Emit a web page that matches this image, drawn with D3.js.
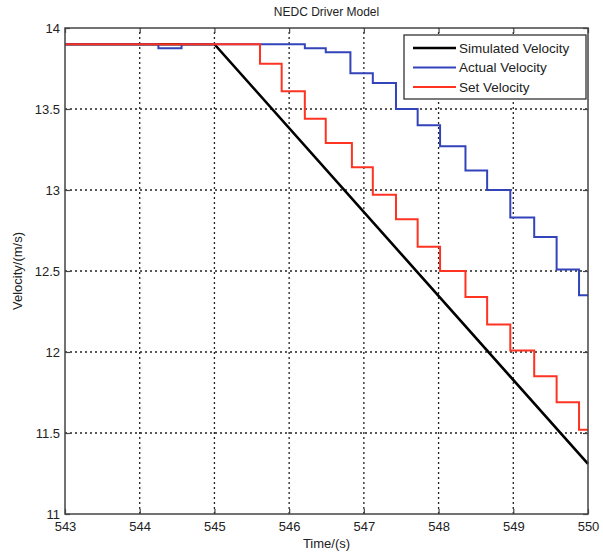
<!DOCTYPE html>
<html lang="en">
  <head>
    <meta charset="utf-8">
    <title>NEDC Driver Model</title>
    <script src="https://d3js.org/d3.v7.min.js"></script>
    <style>
      body { margin: 0; background: #fff; }
      svg text { font-family: "Liberation Sans", Arial, sans-serif; fill: #222; }
    </style>
  </head>
  <body>
    <div id="chart"></div>
    <script>
      // Data
      const xTicks = [543, 544, 545, 546, 547, 548, 549, 550];
      const yTicks = [11, 11.5, 12, 12.5, 13, 13.5, 14];

      // simulated velocity: straight ramp
      const simTime = [543, 545, 550];
      const simVel = [13.9, 13.9, 11.31];

      // actual velocity (step changes: time, new value)
      const actTime = [543, 544.25, 544.56, 546.21, 546.49, 546.82, 547.12, 547.43, 547.72, 548.02, 548.36, 548.65, 548.96, 549.28, 549.58, 549.88];
      const actVel = [13.9, 13.875, 13.9, 13.875, 13.85, 13.72, 13.66, 13.5, 13.4, 13.27, 13.12, 13.0, 12.83, 12.71, 12.51, 12.35];

      // set velocity (step changes)
      const setTime = [543, 545.61, 545.9, 546.21, 546.49, 546.84, 547.12, 547.43, 547.72, 548.02, 548.36, 548.65, 548.96, 549.28, 549.58, 549.88];
      const setVel = [13.9, 13.78, 13.61, 13.44, 13.29, 13.14, 12.97, 12.82, 12.65, 12.5, 12.34, 12.17, 12.01, 11.85, 11.69, 11.52];

      const seriesNames = ['Simulated Velocity', 'Actual Velocity', 'Set Velocity'];
      const seriesColors = ['#000000', '#3344bb', '#ff3322'];

      const W = 603, H = 554;
      const margin = { left: 65, right: 15, top: 28, bottom: 40 };

      const svg = d3.select('#chart').append('svg')
        .attr('width', W)
        .attr('height', H);

      const x = d3.scaleLinear().domain([543, 550]).range([margin.left, W - margin.right]);
      const y = d3.scaleLinear().domain([11, 14]).range([H - margin.bottom, margin.top]);

      // grid
      const grid = svg.append('g')
        .attr('stroke', '#222')
        .attr('stroke-width', 1.3)
        .attr('stroke-dasharray', '2,3');
      grid.selectAll('.gx')
        .data(xTicks.slice(1, -1))
        .enter().append('line')
          .attr('x1', d => x(d)).attr('x2', d => x(d))
          .attr('y1', y(11)).attr('y2', y(14));
      grid.selectAll('.gy')
        .data(yTicks.slice(1, -1))
        .enter().append('line')
          .attr('x1', x(543)).attr('x2', x(550))
          .attr('y1', d => y(d)).attr('y2', d => y(d));

      // lines
      const line = d3.line().x(d => x(d[0])).y(d => y(d[1]));
      const stepLine = d3.line().x(d => x(d[0])).y(d => y(d[1])).curve(d3.curveStepAfter);

      const simData = simTime.map((t, i) => [t, simVel[i]]);
      const actData = actTime.map((t, i) => [t, actVel[i]]).concat([[550, actVel[actVel.length - 1]]]);
      const setData = setTime.map((t, i) => [t, setVel[i]]).concat([[550, setVel[setVel.length - 1]]]);

      const plot = svg.append('g').attr('fill', 'none').attr('stroke-width', 2);
      plot.append('path').attr('d', line(simData)).attr('stroke', seriesColors[0]).attr('stroke-width', 2.6);
      plot.append('path').attr('d', stepLine(actData)).attr('stroke', seriesColors[1]);
      plot.append('path').attr('d', stepLine(setData)).attr('stroke', seriesColors[2]);

      // frame
      svg.append('rect')
        .attr('x', x(543)).attr('y', y(14))
        .attr('width', x(550) - x(543)).attr('height', y(11) - y(14))
        .attr('fill', 'none')
        .attr('stroke', '#444')
        .attr('stroke-width', 1.5);

      // axes (ticks inside)
      const xAxis = d3.axisBottom(x).tickValues(xTicks).tickSize(-5).tickPadding(9).tickFormat(d3.format('d'));
      const gx = svg.append('g').attr('transform', `translate(0,${y(11)})`).call(xAxis);
      gx.select('.domain').remove();
      gx.selectAll('.tick line').attr('stroke', '#444').attr('stroke-width', 1.2);
      gx.selectAll('text').attr('font-size', 13).attr('dy', '0.6em');

      const gxTop = svg.append('g').attr('transform', `translate(0,${y(14)})`)
        .call(d3.axisTop(x).tickValues(xTicks).tickSize(-5).tickFormat(''));
      gxTop.select('.domain').remove();
      gxTop.selectAll('.tick line').attr('stroke', '#444').attr('stroke-width', 1.2);

      const yAxis = d3.axisLeft(y).tickValues(yTicks).tickSize(-5).tickPadding(5).tickFormat(d3.format('~g'));
      const gy = svg.append('g').attr('transform', `translate(${x(543)},0)`).call(yAxis);
      gy.select('.domain').remove();
      gy.selectAll('.tick line').attr('stroke', '#444').attr('stroke-width', 1.2);
      gy.selectAll('text').attr('font-size', 13);

      const gyR = svg.append('g').attr('transform', `translate(${x(550)},0)`)
        .call(d3.axisRight(y).tickValues(yTicks).tickSize(-5).tickFormat(''));
      gyR.select('.domain').remove();
      gyR.selectAll('.tick line').attr('stroke', '#444').attr('stroke-width', 1.2);

      // titles
      svg.append('text')
        .attr('x', (x(543) + x(550)) / 2).attr('y', 16)
        .attr('text-anchor', 'middle').attr('font-size', 12)
        .text('NEDC Driver Model');
      svg.append('text')
        .attr('x', (x(543) + x(550)) / 2).attr('y', 548)
        .attr('text-anchor', 'middle').attr('font-size', 13)
        .text('Time/(s)');
      svg.append('text')
        .attr('transform', `translate(22,${(y(11) + y(14)) / 2}) rotate(-90)`)
        .attr('text-anchor', 'middle').attr('font-size', 13)
        .text('Velocity/(m/s)');

      // legend
      const lg = svg.append('g').attr('transform', 'translate(404,35)');
      lg.append('rect')
        .attr('width', 182).attr('height', 64)
        .attr('fill', '#fff').attr('stroke', '#333').attr('stroke-width', 1.3);
      const items = lg.selectAll('.item')
        .data(seriesNames)
        .enter().append('g')
          .attr('transform', (d, i) => `translate(0,${13 + i * 19.5})`);
      items.append('line')
        .attr('x1', 9).attr('x2', 52)
        .attr('stroke', (d, i) => seriesColors[i])
        .attr('stroke-width', (d, i) => i === 0 ? 2.6 : 2);
      items.append('text')
        .attr('x', 55).attr('dy', '0.35em')
        .attr('font-size', 13.5)
        .text(d => d);
    </script>
  </body>
</html>
